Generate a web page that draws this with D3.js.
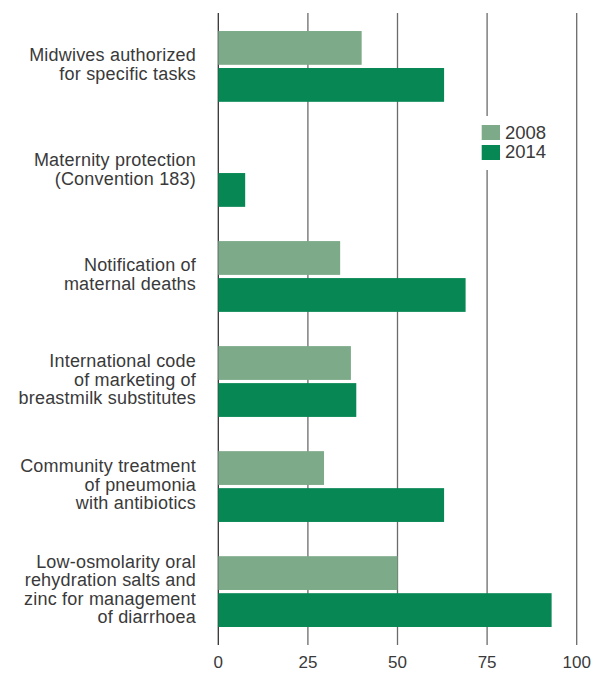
<!DOCTYPE html>
<html><head><meta charset="utf-8">
<script src="https://cdn.jsdelivr.net/npm/d3@7"></script>
<style>body{margin:0;background:#fff}svg{display:block}</style>
</head><body>
<script>
const categories = [
  ["Midwives authorized","for specific tasks"],
  ["Maternity protection","(Convention 183)"],
  ["Notification of","maternal deaths"],
  ["International code","of marketing of","breastmilk substitutes"],
  ["Community treatment","of pneumonia","with antibiotics"],
  ["Low-osmolarity oral","rehydration salts and","zinc for management","of diarrhoea"]
];
const seriesNames = ["2008","2014"];
const values2008 = [40, 0, 34, 37, 29.5, 50];
const values2014 = [63, 7.5, 69, 38.5, 63, 93];
const ticks = [0,25,50,75,100];
const colors = ["#7daa89","#068753"];

const W=594,H=673;
const svg=d3.select("body").append("svg").attr("width",W).attr("height",H);
const x=d3.scaleLinear().domain([0,100]).range([218.3,576.7]);
const y=d3.scaleBand().domain(d3.range(categories.length)).range([13.9,644.1]).paddingInner(0).paddingOuter(0);
const barH=33.8, gap=3.2;
const font="'Liberation Sans', Arial, sans-serif";
const textColor="#3a3a3a";

// gridlines
const grid=svg.append("g");
grid.selectAll("line").data(ticks).join("line")
  .attr("x1",d=>x(d)).attr("x2",d=>x(d)).attr("y1",13).attr("y2",645)
  .attr("stroke",d=>d===0?"#333":"#6b6b6b").attr("stroke-width",1.3);

// bars and category labels
const data=[values2008,values2014];
const labels=svg.append("g");
categories.forEach((c,i)=>{
  const cy=y(i)+y.bandwidth()/2;
  data.forEach((vals,s)=>{
    const top = s===0 ? cy-gap/2-barH : cy+gap/2;
    if(vals[i]>0) svg.append("rect").attr("x",x(0)).attr("y",top)
      .attr("width",x(vals[i])-x(0)).attr("height",barH).attr("fill",colors[s]);
  });
  const lh=18.3;
  const t=labels.append("text").attr("text-anchor","end").attr("font-family",font)
    .attr("font-size",18).attr("letter-spacing",0.2).attr("fill",textColor);
  const n=c.length;
  c.forEach((line,k)=>{
    t.append("tspan").attr("x",196).attr("y",cy+4+(k-(n-1)/2)*lh).text(line);
  });
});

// x axis labels
const ax=svg.append("g");
ax.selectAll("text").data(ticks).join("text")
  .attr("x",d=>x(d)).attr("y",668).attr("text-anchor","middle")
  .attr("font-family",font).attr("font-size",17).attr("fill",textColor).text(d=>d);

// legend
const lg=svg.append("g");
lg.append("rect").attr("x",478).attr("y",116).attr("width",78).attr("height",54).attr("fill","#fff");
seriesNames.forEach((n,i)=>{
  lg.append("rect").attr("x",481.7).attr("y",125+i*20).attr("width",18.3).attr("height",15).attr("fill",colors[i]);
  lg.append("text").attr("x",505).attr("y",139+i*19).attr("font-family",font).attr("font-size",18.5)
    .attr("fill",textColor).text(n);
});
</script>
</body></html>
